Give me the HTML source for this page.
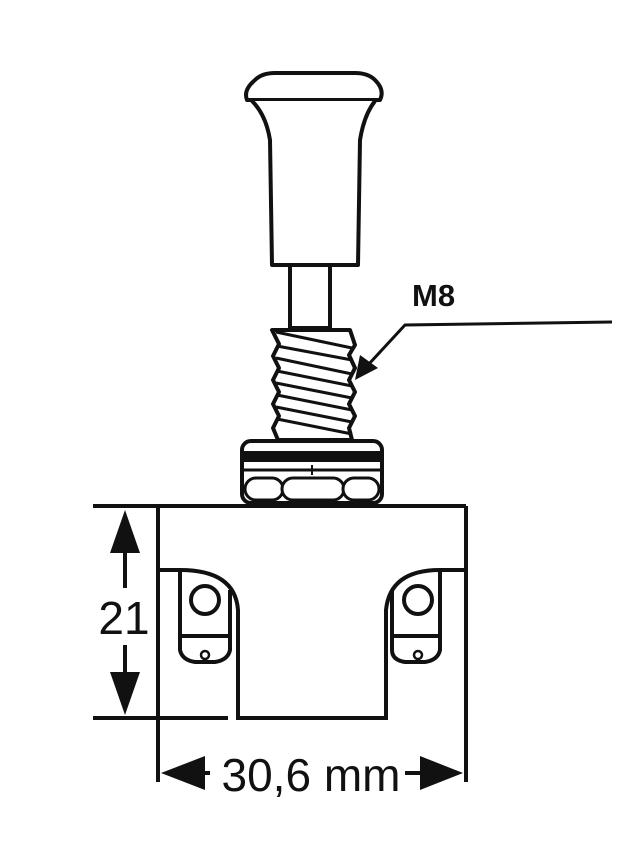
<!DOCTYPE html><html><head><style>body{margin:0;background:#fff}svg{display:block}</style></head><body>
<svg width="640" height="845" viewBox="0 0 640 845" xmlns="http://www.w3.org/2000/svg" font-family="Liberation Sans, sans-serif">
<g fill="none" stroke="#111" stroke-width="4" stroke-linejoin="round">
<path d="M247,100 Q243,90 255,80 Q262,73 275,73 L355,73 Q368,73 375,80 Q385,90 380,100 Z" fill="#fff"/>
<path d="M252,101 Q266,115 270,140 L272,265 L358,265 L360,140 Q364,115 375,101" fill="#fff"/>
<rect x="290" y="265" width="40" height="63" fill="#fff"/>
<path d="M272,330 L350,330 L355,345 L349,355 L355,368 L349,380 L355,392 L349,404 L355,416 L349,428 L352,440 L278,440 L273,428 L279,416 L273,404 L279,392 L273,380 L279,368 L273,356 L279,344 Z" fill="#fff"/>
<g stroke-width="3"><line x1="276" y1="332" x2="352" y2="348"/><line x1="277" y1="346" x2="352" y2="360"/><line x1="276" y1="358" x2="352" y2="374"/><line x1="277" y1="371" x2="352" y2="386"/><line x1="276" y1="383" x2="352" y2="398"/><line x1="277" y1="395" x2="352" y2="410"/><line x1="276" y1="407" x2="352" y2="422"/><line x1="277" y1="419" x2="352" y2="434"/></g>
<rect x="242" y="441" width="140" height="62" rx="9" fill="#fff"/>
</g>
<rect x="244" y="451" width="136" height="11" fill="#111"/>
<line x1="244" y1="470" x2="380" y2="470" stroke="#111" stroke-width="3"/>
<line x1="312" y1="465" x2="312" y2="475" stroke="#111" stroke-width="2"/>
<g fill="#fff" stroke="#111" stroke-width="3">
<rect x="245" y="478" width="38" height="22" rx="11"/><rect x="282" y="478" width="62" height="22" rx="11"/><rect x="343" y="478" width="36" height="22" rx="11"/>
</g>
<polyline points="612,322 405,325 368,365" fill="none" stroke="#111" stroke-width="3"/>
<polygon points="355,380 360,355 378,368" fill="#111"/>
<text x="412" y="306" font-size="31" font-weight="bold" fill="#111">M8</text>
<g fill="none" stroke="#111" stroke-width="4">
<line x1="93" y1="506" x2="466" y2="506"/>
<line x1="158" y1="506" x2="158" y2="782"/>
<line x1="466" y1="506" x2="466" y2="782"/>
<line x1="158" y1="570" x2="180" y2="570"/>
<path d="M180,570 Q235,570 238,610 L238,718 L386,718 L386,610 Q390,570 440,570 L466,570"/>
<path d="M180,570 L180,636 L232,636"/>
<path d="M180,636 L180,650 Q182,660 195,662 L215,662 Q228,660 230,650 L230,590"/>
<circle cx="205" cy="600" r="14"/>
<path d="M440,570 L440,636 L390,636"/>
<path d="M440,636 L440,650 Q438,660 425,662 L405,662 Q392,660 392,650 L392,590"/>
<circle cx="418" cy="600" r="14"/>
<line x1="93" y1="718" x2="228" y2="718"/>
</g>
<circle cx="205" cy="655" r="4" fill="none" stroke="#111" stroke-width="2.5"/>
<circle cx="418" cy="655" r="4" fill="none" stroke="#111" stroke-width="2.5"/>
<line x1="125" y1="530" x2="125" y2="588" stroke="#111" stroke-width="4"/>
<line x1="125" y1="645" x2="125" y2="695" stroke="#111" stroke-width="4"/>
<polygon points="125,510 110,553 140,553" fill="#111"/>
<polygon points="125,715 110,672 140,672" fill="#111"/>
<text x="124" y="634" font-size="46" text-anchor="middle" fill="#111">21</text>
<line x1="175" y1="773" x2="210" y2="773" stroke="#111" stroke-width="4"/>
<line x1="405" y1="773" x2="450" y2="773" stroke="#111" stroke-width="4"/>
<polygon points="161,773 205,756 205,790" fill="#111"/>
<polygon points="463,773 420,756 420,790" fill="#111"/>
<text x="311" y="791" font-size="46" text-anchor="middle" fill="#111">30,6 mm</text>
</svg>
</body></html>
